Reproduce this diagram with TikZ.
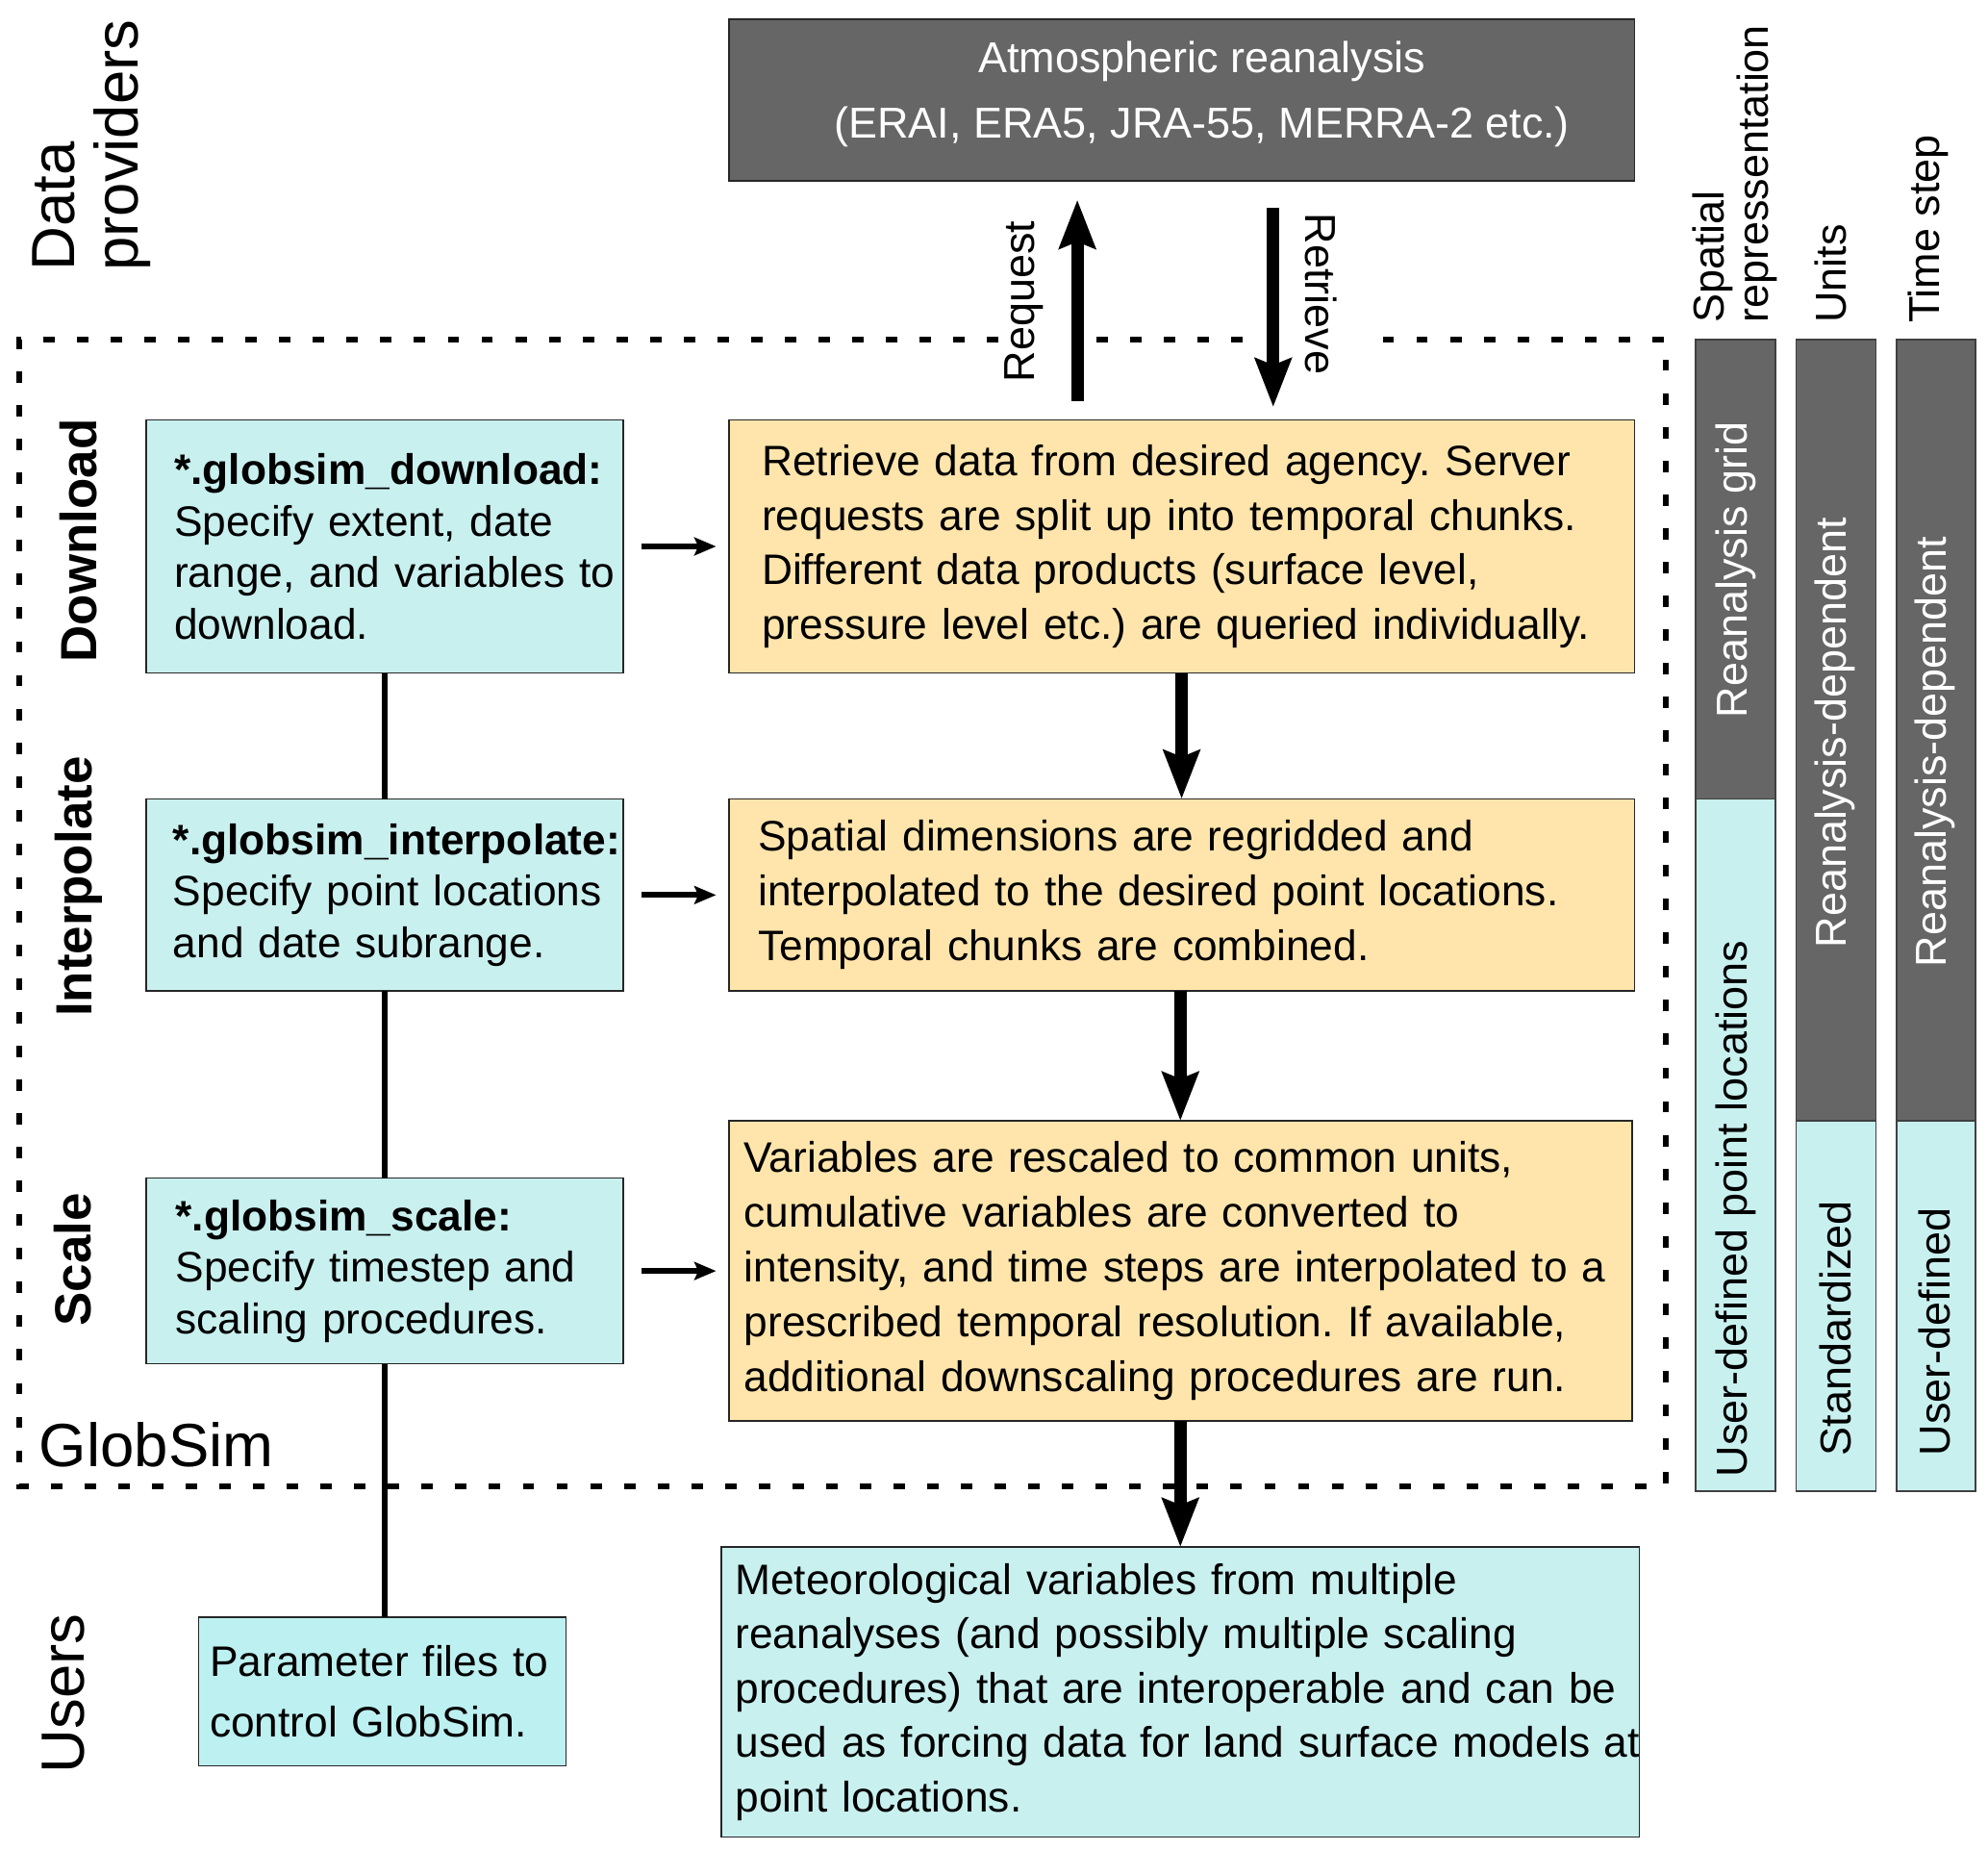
\documentclass[tikz,border=0pt]{standalone}
\usepackage{fontspec}
\setmainfont{Liberation Sans}
\usetikzlibrary{arrows.meta}
\frenchspacing
\definecolor{dgray}{HTML}{666666}
\definecolor{lcyan}{HTML}{C8F0EF}
\definecolor{ucyan}{HTML}{BDF0F0}
\definecolor{lorange}{HTML}{FFE5AB}
\tikzset{
  every node/.style={inner sep=0pt, outer sep=0pt},
  cbox/.style={draw=black!85, line width=0.6pt, fill=lcyan, anchor=north west, align=left, inner ysep=0pt, font=\fontsize{16.75}{20.25}\selectfont},
  obox/.style={draw=black!85, line width=0.6pt, fill=lorange, anchor=north west, align=left, inner ysep=0pt, font=\fontsize{16.75}{21.5}\selectfont},
  darkbox/.style={draw=black!85, line width=0.6pt, fill=dgray, anchor=north west},
  thickarr/.style={line width=5pt, -{Stealth[length=19pt,width=14pt,inset=2.5pt]}},
  thinarr/.style={line width=2.2pt, -{Stealth[length=8.5pt,width=7pt,inset=1.5pt]}, shorten <=7pt, shorten >=5pt},
  conn/.style={line width=2pt},
  frame/.style={line width=2.3pt, dash pattern=on 4.5pt off 8.75pt},
  bardark/.style={fill=dgray, draw=black!75, line width=0.6pt},
  barlight/.style={fill=lcyan, draw=black!75, line width=0.6pt},
  rotlab/.style={rotate=90, font=\fontsize{17}{20}\selectfont},
  steplab/.style={rotate=90, font=\bfseries\fontsize{20}{24}\selectfont},
  biglab/.style={font=\fontsize{24}{25}\selectfont},
}
\begin{document}
\begin{tikzpicture}[x=0.5pt,y=-0.5pt]
\useasboundingbox (0,0) rectangle (1563,1454);

% GlobSim frame
\draw[frame] (785,267) -- (15,267) -- (15,1168) -- (1310,1168) -- (1310,267) -- (1075,267);
\draw[frame] (862,267) -- (980,267);

% reanalysis box
\node[darkbox, minimum width=356pt, minimum height=63.5pt] (rean) at (573,15) {};
\node[text=white, align=center, font=\fontsize{17}{26}\selectfont] (reantext) at (945,74) {Atmospheric reanalysis\\(ERAI, ERA5, JRA-55, MERRA-2 etc.)};

% left cyan boxes
\node[cbox, text width=165.5pt, inner xsep=11pt, minimum height=99.5pt] (cdl) at (115,330)
 {\mbox{\textbf{*.globsim\_download:}}\\\mbox{Specify extent, date}\\\mbox{range, and variables to}\\\mbox{download.}};
\node[cbox, text width=166.5pt, inner xsep=10.5pt, minimum height=75.5pt] (cil) at (115,628)
 {\mbox{\textbf{*.globsim\_interpolate:}}\\\mbox{Specify point locations}\\\mbox{and date subrange.}};
\node[cbox, text width=164.5pt, inner xsep=11.5pt, minimum height=73pt] (csc) at (115,926)
 {\mbox{\textbf{*.globsim\_scale:}}\\\mbox{Specify timestep and}\\\mbox{scaling procedures.}};
\node[cbox, fill=ucyan, text width=135.5pt, inner xsep=4.5pt, minimum height=58.5pt, font=\fontsize{16.75}{23.5}\selectfont] (users) at (156,1271)
 {\mbox{Parameter files to}\\\mbox{control GlobSim.}};

% orange boxes
\node[obox, text width=330pt, inner xsep=13pt, minimum height=99.5pt] (dor) at (573,330)
 {\mbox{Retrieve data from desired agency. Server}\\\mbox{requests are split up into temporal chunks.}\\\mbox{Different data products (surface level,}\\\mbox{pressure level etc.) are queried individually.}};
\node[obox, text width=333pt, inner xsep=11.5pt, minimum height=75.5pt] (ior) at (573,628)
 {\mbox{Spatial dimensions are regridded and}\\\mbox{interpolated to the desired point locations.}\\\mbox{Temporal chunks are combined.}};
\node[obox, text width=343pt, inner xsep=6pt, minimum height=118pt] (sor) at (573,881)
 {\mbox{Variables are rescaled to common units,}\\\mbox{cumulative variables are converted to}\\\mbox{intensity, and time steps are interpolated to a}\\\mbox{prescribed temporal resolution. If available,}\\\mbox{additional downscaling procedures are run.}};
\node[cbox, font=\fontsize{16.75}{21.4}\selectfont, text width=350pt, inner xsep=5.5pt, minimum height=114pt] (out) at (567,1216)
 {\mbox{Meteorological variables from multiple}\\\mbox{reanalyses (and possibly multiple scaling}\\\mbox{procedures) that are interoperable and can be}\\\mbox{used as forcing data for land surface models at}\\\mbox{point locations.}};

% connectors
\draw[conn] (cdl.south) -- (cil.north);
\draw[conn] (cil.south) -- (csc.north);
\draw[conn] (csc.south) -- (csc.south |- users.north);

\draw[thinarr] (cdl.east) -- (dor.west);
\draw[thinarr] (cil.east) -- (ior.west);
\draw[thinarr] (csc.east) -- (sor.west);

\draw[thickarr] (dor.south) -- (ior.north);
\draw[thickarr] (sor.north |- ior.south) -- (sor.north);
\draw[thickarr] (sor.south) -- (out.north);
\draw[thickarr] ([xshift=-41pt,yshift=7.5pt]dor.north) -- ([xshift=-41pt,yshift=-7.5pt]rean.south);
\draw[thickarr] ([xshift=36pt,yshift=-10.5pt]rean.south) -- ([xshift=36pt,yshift=5pt]dor.north);

\node[rotlab] (req) at (805,237) {Request};
\node[rotate=-90, font=\fontsize{17}{20}\selectfont] (ret) at (1039,231) {Retrieve};

% side labels
\node[biglab, rotate=90, align=left, anchor=west] (dp) at (72,213) {Data\\providers};
\node[steplab] (lbdl) at (62,425) {Download};
\node[steplab] (lbil) at (62,697) {Interpolate};
\node[steplab] (lbsc) at (57,990) {Scale};
\node[biglab, rotate=90] (lbus) at (50,1331) {Users};
\node[biglab, anchor=base west] (gs) at (31,1153) {GlobSim};

% right columns
\draw[bardark] (1333,267) rectangle (1396,628);
\draw[barlight] (1333,628) rectangle (1396,1172);
\draw[bardark] (1412,267) rectangle (1475,881);
\draw[barlight] (1412,881) rectangle (1475,1172);
\draw[bardark] (1491,267) rectangle (1553,881);
\draw[barlight] (1491,881) rectangle (1553,1172);

\node[rotlab, align=left, anchor=west, font=\fontsize{17}{17.5}\selectfont] (hsp) at (1364,254) {Spatial\\repressentation};
\node[rotlab, anchor=west] (hun) at (1439,254) {Units};
\node[rotlab, anchor=west] (hts) at (1516,254) {Time step};

\node[rotlab, text=white] (b1a) at (1365,448) {Reanalysis grid};
\node[rotlab] (b1b) at (1365,950) {User-defined point locations};
\node[rotlab, text=white] (b2a) at (1443,576) {Reanalysis-dependent};
\node[rotlab] (b2b) at (1443,1044) {Standardized};
\node[rotlab, text=white] (b3a) at (1521,591) {Reanalysis-dependent};
\node[rotlab] (b3b) at (1521,1047) {User-defined};
\end{tikzpicture}
\end{document}
